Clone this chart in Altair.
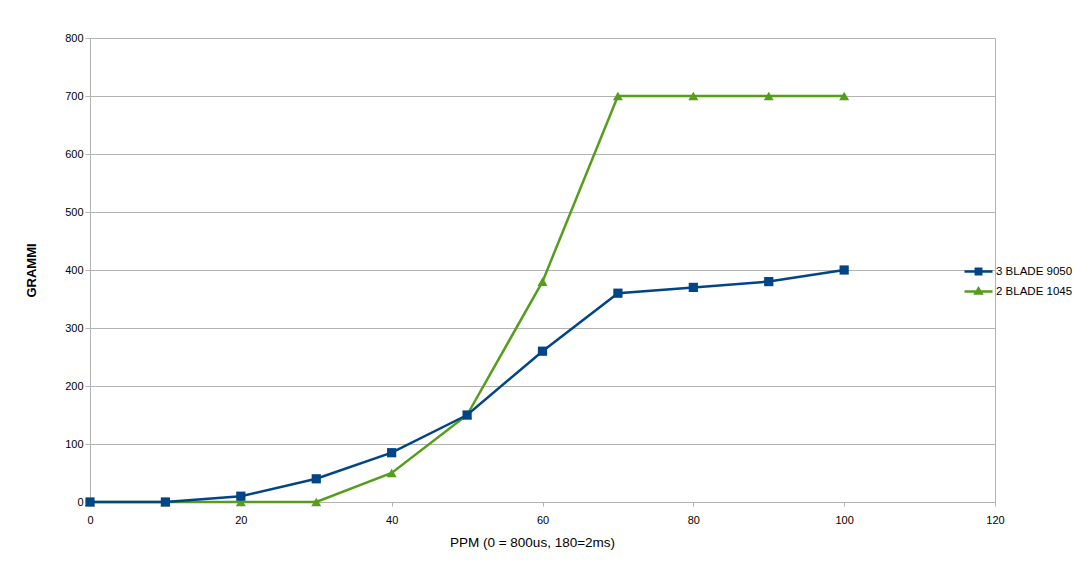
import altair as alt
import pandas as pd

x_ppm = [0, 10, 20, 30, 40, 50, 60, 70, 80, 90, 100]
blade_9050 = [0, 0, 10, 40, 85, 150, 260, 360, 370, 380, 400]
blade_1045 = [0, 0, 0, 0, 50, 150, 380, 700, 700, 700, 700]
series_names = ["3 BLADE 9050", "2 BLADE 1045"]
series_colors = ["#004586", "#579d1c"]

rows = []
for x, v in zip(x_ppm, blade_1045):
    rows.append({"ppm": x, "grammi": v, "serie": series_names[1], "ord": 0})
for x, v in zip(x_ppm, blade_9050):
    rows.append({"ppm": x, "grammi": v, "serie": series_names[0], "ord": 1})
df = pd.DataFrame(rows)

FONT = "Liberation Sans"
GRID = "#b3b3b3"

sq_path = "M-1.4,0H1.4M-0.27,-0.27H0.27V0.27H-0.27Z"
tri_path = "M-1.4,0H1.4M0,-0.31L0.31,0.21L-0.31,0.21Z"
shape_expr = f"datum.value === '{series_names[0]}' ? '{sq_path}' : '{tri_path}'"
col_expr = "scale('color', datum.value)"

legend = alt.Legend(
    title=None,
    orient="none",
    legendX=877,
    legendY=222,
    padding=0,
    symbolSize=400,
    symbolStrokeWidth=2.5,
    symbolType={"expr": shape_expr},
    symbolStrokeColor={"expr": col_expr},
    symbolFillColor={"expr": col_expr},
    symbolOpacity=1,
    labelFont=FONT,
    labelFontSize=11.5,
    labelColor="#000000",
    labelOffset=6,
    rowPadding=0,
)

color = alt.Color(
    "serie:N",
    scale=alt.Scale(domain=series_names, range=series_colors),
    legend=legend,
)

x_enc = alt.X(
    "ppm:Q",
    scale=alt.Scale(domain=[0, 120], nice=False, zero=False),
    axis=alt.Axis(
        title="PPM (0 = 800us, 180=2ms)",
        values=[0, 20, 40, 60, 80, 100, 120],
        grid=False,
        tickSize=4,
        labelPadding=8,
        labelFlush=False,
        titlePadding=10,
        titleX=442,
        titleFontWeight="normal",
        titleFontSize=13.5,
    ),
)
y_enc = alt.Y(
    "grammi:Q",
    scale=alt.Scale(domain=[0, 800], nice=False),
    axis=alt.Axis(
        title="GRAMMI",
        values=list(range(0, 801, 100)),
        grid=True,
        tickSize=5,
        labelPadding=2,
        labelFlush=False,
        titlePadding=26,
        titleFontWeight="bold",
        titleFontSize=13,
    ),
)

base = alt.Chart(df)
lines = base.mark_line(strokeWidth=2.5).encode(
    x=x_enc, y=y_enc, color=color, order=alt.Order("ord:Q")
)
pts_green = base.transform_filter(
    alt.datum.serie == series_names[1]
).mark_point(filled=True, opacity=1, size=100, shape="triangle-up").encode(
    x=x_enc, y=y_enc, color=color
)
pts_blue = base.transform_filter(
    alt.datum.serie == series_names[0]
).mark_point(filled=True, opacity=1, size=85, shape="square").encode(
    x=x_enc, y=y_enc, color=color
)

chart = (
    alt.layer(lines, pts_green, pts_blue)
    .properties(
        width=905,
        height=464,
        autosize=alt.AutoSizeParams(type="none"),
        padding={"left": 82, "top": 30, "right": 80, "bottom": 50},
        background="white",
    )
    .configure_view(stroke=GRID, strokeWidth=1)
    .configure_axis(
        domainColor=GRID,
        tickColor=GRID,
        gridColor=GRID,
        gridOpacity=1,
        labelFont=FONT,
        labelFontSize=11,
        labelColor="#000000",
        titleFont=FONT,
        titleColor="#000000",
    )
)

chart.save("out.html", embed_options={"renderer": "svg", "actions": False})
